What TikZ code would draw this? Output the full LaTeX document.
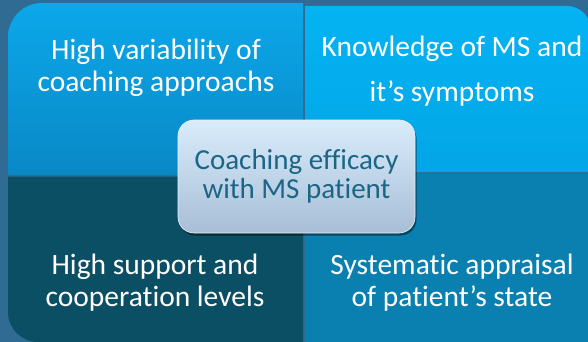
\documentclass[tikz,border=0pt]{standalone}
\usepackage{fontspec}
\setmainfont{Carlito}[Ligatures=CommonOff]
\usetikzlibrary{shadows}
\definecolor{bgblue}{HTML}{2F6B92}
\definecolor{tlTop}{HTML}{0BA8EA}
\definecolor{tlBot}{HTML}{0A88C6}
\definecolor{trTop}{HTML}{04B3F3}
\definecolor{trBot}{HTML}{03A6E6}
\definecolor{blFill}{HTML}{0B4F64}
\definecolor{brFill}{HTML}{0A80B1}
\definecolor{hubTop}{HTML}{D8ECFB}
\definecolor{hubBot}{HTML}{A8BED6}
\definecolor{hubText}{HTML}{1B6686}
\tikzset{
  quadtext/.style={text=white, align=center, font=\fontsize{29.5}{32}\selectfont},
  hub/.style={rounded corners=16pt, minimum width=237pt, minimum height=113pt,
    top color=hubTop, bottom color=hubBot, draw=white!80!hubBot, line width=0.6pt,
    text=hubText, align=center, font=\fontsize{29}{29}\selectfont,
    drop shadow={shadow xshift=1.5pt, shadow yshift=-2.5pt, opacity=0.45, fill=black}},
}
\begin{document}
\begin{tikzpicture}[x=1pt, y=-1pt]
  \useasboundingbox (0,0) rectangle (588,342);
  \fill[bgblue] (0,0) rectangle (588,342);
  \begin{scope}
    \clip (0,0) rectangle (588,342);
    % top left quarter
    \shade[top color=tlTop, bottom color=tlBot]
      (8,175) [rounded corners=34pt] -- (8,3) [sharp corners] -- (303,3) -- (303,175) -- cycle;
    % top right quarter
    \shade[top color=trTop, bottom color=trBot]
      (305,6) [rounded corners=24pt] -- (591,6) [sharp corners] -- (591,172) -- (305,172) -- cycle;
    % bottom left quarter
    \fill[blFill]
      (8,176.5) [rounded corners=30pt] -- (8,342) [sharp corners] -- (303,342) -- (303,176.5) -- cycle;
    % bottom right quarter
    \fill[brFill] (305,173.5) rectangle (590,344);
  \end{scope}
  % quarter labels
  \node[quadtext] (tl) at (156,67.5) {High variability of\\coaching approachs};
  \node[quadtext] (tr) at (452,71) {Knowledge of MS and\\[13pt]it’s symptoms};
  \node[quadtext] (bl) at (155,282.5) {High support and\\cooperation levels};
  \node[quadtext] (br) at (452,282.5) {Systematic appraisal\\of patient’s state};
  % central hub
  \node[hub] (hub) at (296.5,176.5) {Coaching efficacy\\with MS patient};
\end{tikzpicture}
\end{document}
